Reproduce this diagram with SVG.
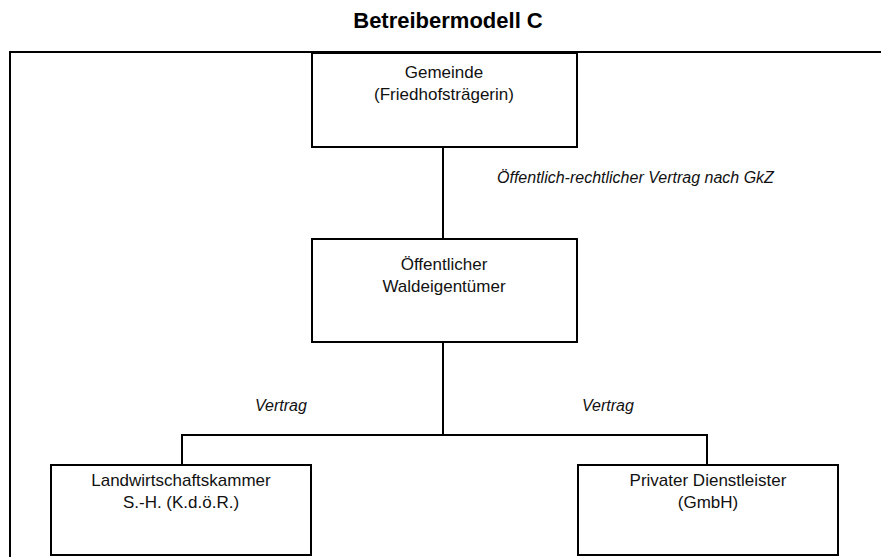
<svg xmlns="http://www.w3.org/2000/svg" width="881" height="557" viewBox="0 0 881 557">
  <style>
    .box { fill: #ffffff; stroke: #000000; stroke-width: 2; }
    .frame { fill: none; stroke: #000000; stroke-width: 2; }
    .link { fill: none; stroke: #000000; stroke-width: 2; }
    .title { font-family: "Liberation Sans", Arial, sans-serif; font-size: 22px; font-weight: bold; fill: #000; text-anchor: middle; }
    .label { font-family: "Liberation Sans", Arial, sans-serif; font-size: 17px; fill: #111; text-anchor: middle; }
    .edge-label { font-family: "Liberation Sans", Arial, sans-serif; font-size: 16px; font-style: italic; fill: #111; }
  </style>
  <rect x="0" y="0" width="881" height="557" fill="#ffffff"/>

  <text class="title" x="448" y="28">Betreibermodell C</text>

  <!-- outer frame (open on the right and bottom) -->
  <polyline class="frame" points="10,557 10,52 881,52"/>

  <!-- connectors -->
  <g id="connectors">
    <line class="link" x1="443" y1="147" x2="443" y2="239"/>
    <polyline class="link" points="443,342 443,435"/>
    <polyline class="link" points="182,465 182,435 707,435 707,465"/>
    <text class="edge-label" x="497" y="183">Öffentlich-rechtlicher Vertrag nach GkZ</text>
    <text class="edge-label" x="255" y="411">Vertrag</text>
    <text class="edge-label" x="582" y="411">Vertrag</text>
  </g>

  <g id="gemeinde">
    <rect class="box" x="312" y="53" width="265" height="94"/>
    <text class="label" x="444" y="78">Gemeinde</text>
    <text class="label" x="444" y="100">(Friedhofsträgerin)</text>
  </g>

  <g id="waldeigentuemer">
    <rect class="box" x="312" y="239" width="265" height="103"/>
    <text class="label" x="444" y="270">Öffentlicher</text>
    <text class="label" x="444" y="292">Waldeigentümer</text>
  </g>

  <g id="landwirtschaftskammer">
    <rect class="box" x="51" y="465" width="260" height="90"/>
    <text class="label" x="181" y="486">Landwirtschaftskammer</text>
    <text class="label" x="181" y="508">S.-H. (K.d.ö.R.)</text>
  </g>

  <g id="dienstleister">
    <rect class="box" x="578" y="465" width="260" height="90"/>
    <text class="label" x="708" y="486">Privater Dienstleister</text>
    <text class="label" x="708" y="508">(GmbH)</text>
  </g>
</svg>
